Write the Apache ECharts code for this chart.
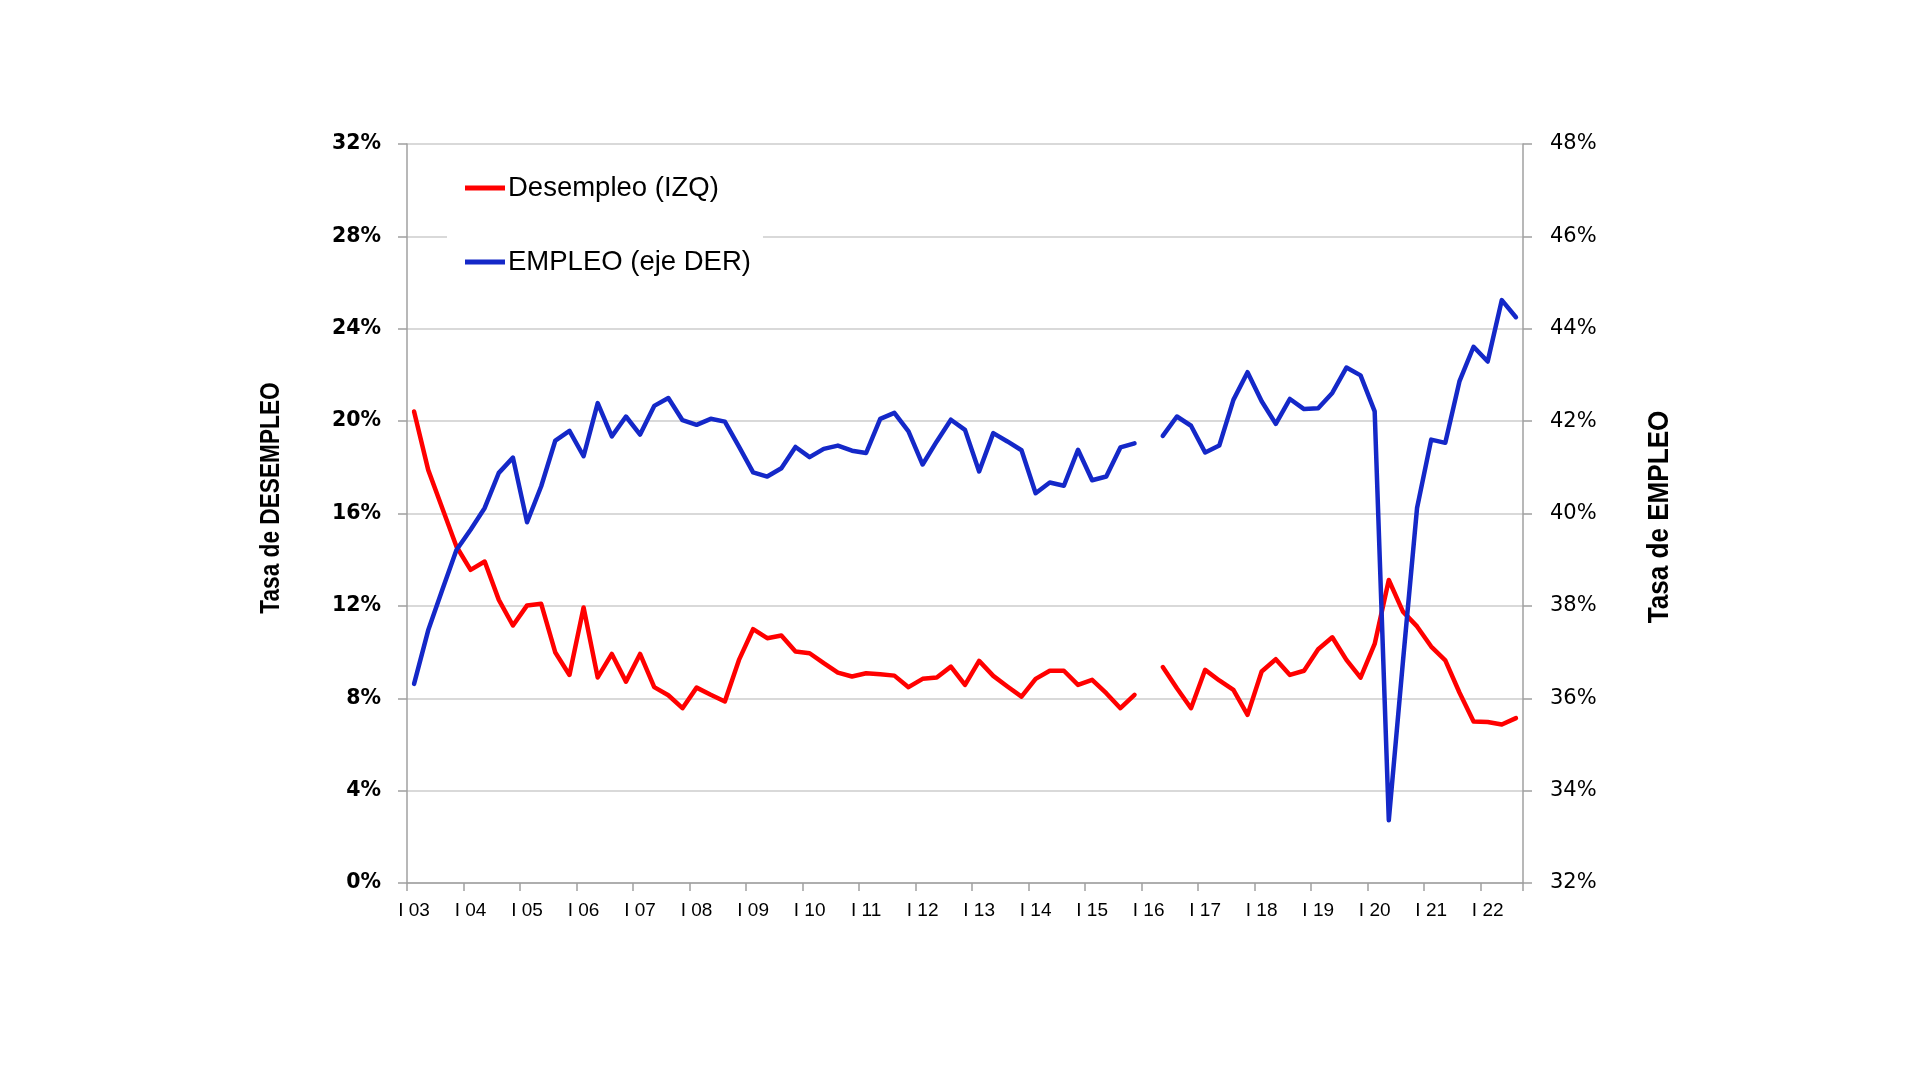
<!DOCTYPE html>
<html>
<head>
<meta charset="utf-8">
<script src="https://cdn.jsdelivr.net/npm/echarts@6/dist/echarts.min.js"></script>
<style>
html,body{margin:0;padding:0;background:#fff;}
#chart{width:1920px;height:1079px;}
</style>
</head>
<body>
<div id="chart"></div>
<script>
// Years and quarters for the category axis (I 03 ... III 22)
const years = ['03','04','05','06','07','08','09','10','11','12','13','14','15','16','17','18','19','20','21','22'];
const quarters = ['I','II','III','IV'];
const lastQuarterCount = 79;

// Tasa de DESEMPLEO (left axis, %)
const desempleo = [
  20.42, 17.89, 16.23, 14.57, 13.56, 13.92, 12.26, 11.15, 12.02, 12.09,
  9.98, 9.01, 11.93, 8.90, 9.92, 8.72, 9.92, 8.48, 8.13, 7.57,
  8.46, 8.15, 7.86, 9.66, 10.99, 10.60, 10.72, 10.02, 9.95, 9.52,
  9.11, 8.94, 9.08, 9.04, 8.98, 8.48, 8.84, 8.90, 9.37, 8.58,
  9.62, 8.97, 8.51, 8.07, 8.84, 9.19, 9.19, 8.58, 8.80, 8.22,
  7.57, 8.15, null, 9.35, 8.43, 7.57, 9.23, 8.77, 8.36, 7.28,
  9.16, 9.69, 9.01, 9.19, 10.12, 10.64, 9.66, 8.89, 10.35, 13.12,
  11.75, 11.11, 10.24, 9.64, 8.25, 6.99, 6.97, 6.86, 7.14
];

// Tasa de EMPLEO (right axis, %)
const empleo = [
  36.31, 37.47, 38.35, 39.21, 39.65, 40.12, 40.88, 41.21, 39.81, 40.59,
  41.58, 41.79, 41.24, 42.39, 41.67, 42.10, 41.71, 42.33, 42.50, 42.02,
  41.92, 42.05, 41.99, 41.45, 40.89, 40.80, 40.98, 41.44, 41.22, 41.40,
  41.47, 41.36, 41.31, 42.05, 42.18, 41.78, 41.06, 41.56, 42.03, 41.81,
  40.91, 41.74, 41.56, 41.37, 40.44, 40.67, 40.60, 41.38, 40.72, 40.80,
  41.43, 41.52, null, 41.68, 42.10, 41.90, 41.32, 41.47, 42.46, 43.06,
  42.43, 41.94, 42.48, 42.26, 42.28, 42.61, 43.16, 42.99, 42.21, 33.36,
  36.79, 40.12, 41.60, 41.53, 42.86, 43.61, 43.29, 44.62, 44.25
];

const categories = [];
for (const y of years) for (const q of quarters) categories.push(q + ' ' + y);
categories.length = lastQuarterCount;

const chart = echarts.init(document.getElementById('chart'));
chart.setOption({
  animation: false,
  backgroundColor: '#ffffff',
  grid: { left: 407, right: 397, top: 144, bottom: 196, containLabel: false },
  legend: {
    orient: 'vertical',
    left: 447, top: 152,
    padding: [21, 12, 30, 18],
    backgroundColor: '#ffffff',
    itemWidth: 40, itemHeight: 5,
    itemGap: 44,
    icon: 'rect',
    textStyle: { fontFamily: 'Liberation Sans', fontSize: 27.5, color: '#000', lineHeight: 30, padding: [0,0,0,-2] },
    data: ['Desempleo (IZQ)', 'EMPLEO (eje DER)'],
    z: 10
  },
  xAxis: {
    type: 'category',
    data: categories,
    boundaryGap: true,
    axisLine: { lineStyle: { color: '#a0a0a0', width: 1.5 } },
    axisTick: { show: true, interval: 3, length: 8, lineStyle: { color: '#a0a0a0', width: 1.5 } },
    axisLabel: { interval: 3, margin: 18, fontFamily: 'Liberation Sans', fontSize: 19, color: '#000' },
    splitLine: { show: false }
  },
  yAxis: [
    {
      type: 'value', min: 0, max: 32, interval: 4, position: 'left',
      axisLine: { show: true, lineStyle: { color: '#a0a0a0', width: 1.5 } },
      axisTick: { show: true, length: 9, lineStyle: { color: '#a0a0a0', width: 1.5 } },
      axisLabel: { formatter: '{value}%', margin: 26, fontFamily: 'DejaVu Sans', fontWeight: 'bold', fontSize: 20.5, color: '#000' },
      splitLine: { show: true, lineStyle: { color: '#cccccc', width: 1.5 } }
    },
    {
      type: 'value', min: 32, max: 48, interval: 2, position: 'right',
      axisLine: { show: true, lineStyle: { color: '#a0a0a0', width: 1.5 } },
      axisTick: { show: true, length: 9, lineStyle: { color: '#a0a0a0', width: 1.5 } },
      axisLabel: { formatter: '{value}%', margin: 27, fontFamily: 'DejaVu Sans', fontSize: 21, color: '#000' },
      splitLine: { show: false }
    }
  ],
  graphic: [
    { type: 'text', x: 272, y: 498, rotation: Math.PI / 2, scaleX: 0.84,
      style: { text: 'Tasa de DESEMPLEO', align: 'center', verticalAlign: 'middle',
               font: 'bold 27px "Liberation Sans", sans-serif', fill: '#000' } },
    { type: 'text', x: 1660, y: 517, rotation: Math.PI / 2, scaleX: 0.87,
      style: { text: 'Tasa de EMPLEO', align: 'center', verticalAlign: 'middle',
               font: 'bold 30px "Liberation Sans", sans-serif', fill: '#000' } }
  ],
  series: [
    {
      name: 'Desempleo (IZQ)', type: 'line', yAxisIndex: 0, data: desempleo,
      showSymbol: false, symbol: 'none', connectNulls: false,
      lineStyle: { color: '#ff0000', width: 4.5, join: 'round', cap: 'round' },
      itemStyle: { color: '#ff0000' }, z: 3
    },
    {
      name: 'EMPLEO (eje DER)', type: 'line', yAxisIndex: 1, data: empleo,
      showSymbol: false, symbol: 'none', connectNulls: false,
      lineStyle: { color: '#1428c8', width: 4.5, join: 'round', cap: 'round' },
      itemStyle: { color: '#1428c8' }, z: 3
    }
  ]
});
</script>
</body>
</html>
